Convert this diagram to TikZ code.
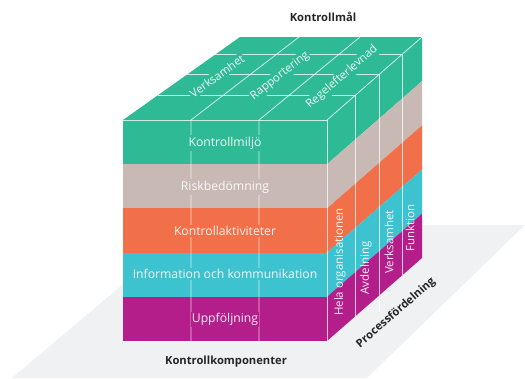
\documentclass[tikz,border=0pt]{standalone}
\usepackage{fontspec}
\setmainfont{Open Sans}
\usetikzlibrary{positioning}

\definecolor{miljo}{HTML}{2EBA94}
\definecolor{risk}{HTML}{C9B9B5}
\definecolor{aktiv}{HTML}{F27049}
\definecolor{info}{HTML}{3DC2CF}
\definecolor{uppf}{HTML}{B41E8A}
\definecolor{golv}{HTML}{F0F1F3}
\definecolor{rubrik}{HTML}{262626}

\begin{document}
\begin{tikzpicture}[x=1pt, y=-1pt,
    grid/.style={draw=white, draw opacity=0.75, line width=0.8pt},
    lbl/.style={text=white, text opacity=0.92, font=\fontsize{11.5}{13}\selectfont, inner xsep=1pt, inner ysep=1.5pt},
    band/.style={lbl, font=\fontsize{12.2}{14}\selectfont},
    title/.style={text=rubrik, font=\fontsize{11.2}{13}\bfseries\selectfont}]
    \useasboundingbox (0,0) rectangle (525,378);

    % Floor
    \fill[golv] (12,378) -- (193,225) -- (525,225) -- (367,378) -- cycle;

    % Front and side bands
    \foreach \c [count=\i from 0] in {miljo,risk,aktiv,info,uppf} {
        \fill[\c] (123,120+44.2*\i) rectangle (327,164.2+44.2*\i);
        \fill[\c] (327,120+44.2*\i) -- (422,37+44.2*\i) -- (422,81.2+44.2*\i) -- (327,164.2+44.2*\i) -- cycle;
    }

    % Top
    \fill[miljo] (123,120) -- (327,120) -- (422,37) -- (240,37) -- cycle;

    % Grid lines
    \draw[grid] (123,120) -- (327,120) -- (327,341);
    \draw[grid] (327,120) -- (422,37);
    \draw[grid] (191,341) -- (191,120) -- (299,37);
    \draw[grid] (259,341) -- (259,120) -- (360,37);
    \draw[grid] (157.5,95.5) -- (355,95.5) -- (355,316.5);
    \draw[grid] (187,74.6) -- (379,74.6) -- (379,312);
    \draw[grid] (215.4,54.4) -- (402,54.4) -- (402,275.4);

    % Kontrollkomponenter
    \node[band, fill=miljo] (miljo) at (225,143) {Kontrollmiljö};
    \node[band, fill=risk] (risk) at (225,187) {Riskbedömning};
    \node[band, fill=aktiv] (aktiv) at (225,231) {Kontrollaktiviteter};
    \node[band, fill=info] (info) at (225,274) {Information och kommunikation};
    \node[band, fill=uppf] (uppf) at (225,319.5) {Uppföljning};

    % Kontrollmal
    \node[lbl, fill=miljo, rotate=36] (verks) at (217,76) {Verksamhet};
    \node[lbl, fill=miljo, rotate=38] (rapp) at (280,76) {Rapportering};
    \node[lbl, fill=miljo, rotate=41] (regel) at (342,77) {Regelefterlevnad};

    % Processfordelning
    \node[lbl, rotate=90] (hela) at (340,262) {Hela organisationen};
    \node[lbl, rotate=90] (avd) at (366,268) {Avdelning};
    \node[lbl, rotate=90] (verksamhet) at (389,242) {Verksamhet};
    \node[lbl, rotate=90] (funk) at (410,228) {Funktion};

    % Titles
    \node[title] (mal) at (323,17) {Kontrollmål};
    \node[title] (komp) at (226,362) {Kontrollkomponenter};
    \node[title, rotate=41] (proc) at (396,313) {Processfördelning};
\end{tikzpicture}
\end{document}
